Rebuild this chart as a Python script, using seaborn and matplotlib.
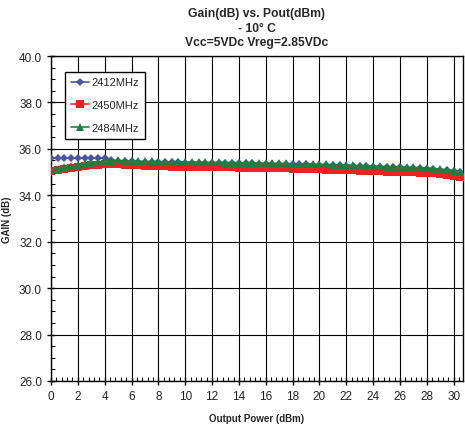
import matplotlib
matplotlib.use("Agg")
import matplotlib.pyplot as plt
import seaborn as sns
import pandas as pd
from matplotlib.ticker import MultipleLocator

pout = [0, 0.5, 1, 1.5, 2, 2.5, 3, 3.5, 4, 4.5, 5, 5.5, 6, 6.5, 7, 7.5, 8, 8.5, 9, 9.5,
        10, 10.5, 11, 11.5, 12, 12.5, 13, 13.5, 14, 14.5, 15, 15.5, 16, 16.5, 17, 17.5,
        18, 18.5, 19, 19.5, 20, 20.5, 21, 21.5, 22, 22.5, 23, 23.5, 24, 24.5, 25, 25.5,
        26, 26.5, 27, 27.5, 28, 28.5, 29, 29.5, 30, 30.5]

gain_2412 = [35.60, 35.60, 35.61, 35.61, 35.61, 35.61, 35.61, 35.60, 35.59, 35.52, 35.48, 35.47,
             35.46, 35.45, 35.44, 35.44, 35.43, 35.43, 35.42, 35.42, 35.41, 35.41, 35.40, 35.40,
             35.39, 35.39, 35.39, 35.38, 35.38, 35.37, 35.37, 35.36, 35.36, 35.35, 35.35, 35.34,
             35.34, 35.33, 35.33, 35.32, 35.31, 35.31, 35.30, 35.29, 35.28, 35.27, 35.26, 35.25,
             35.24, 35.23, 35.22, 35.21, 35.20, 35.19, 35.18, 35.17, 35.15, 35.13, 35.11, 35.08,
             35.04, 35.00]

gain_2450 = [35.05, 35.10, 35.15, 35.19, 35.23, 35.27, 35.30, 35.32, 35.34, 35.34, 35.33, 35.32,
             35.30, 35.29, 35.28, 35.27, 35.26, 35.25, 35.24, 35.24, 35.23, 35.23, 35.22, 35.22,
             35.21, 35.21, 35.20, 35.20, 35.19, 35.19, 35.18, 35.18, 35.17, 35.17, 35.16, 35.16,
             35.15, 35.15, 35.14, 35.13, 35.12, 35.11, 35.10, 35.09, 35.08, 35.07, 35.06, 35.05,
             35.04, 35.03, 35.02, 35.01, 35.00, 35.00, 34.99, 34.98, 34.96, 34.94, 34.92, 34.89,
             34.85, 34.80]

gain_2484 = [35.10, 35.15, 35.20, 35.25, 35.30, 35.35, 35.40, 35.44, 35.47, 35.49, 35.50, 35.49,
             35.48, 35.47, 35.46, 35.46, 35.45, 35.45, 35.44, 35.44, 35.43, 35.43, 35.43, 35.42,
             35.42, 35.42, 35.41, 35.41, 35.40, 35.40, 35.39, 35.39, 35.38, 35.38, 35.37, 35.37,
             35.36, 35.35, 35.35, 35.34, 35.33, 35.33, 35.32, 35.31, 35.30, 35.29, 35.28, 35.27,
             35.26, 35.25, 35.24, 35.23, 35.22, 35.21, 35.20, 35.19, 35.17, 35.15, 35.13, 35.10,
             35.06, 35.02]

series_names = ["2412MHz", "2450MHz", "2484MHz"]
x_ticks = list(range(0, 31, 2))
y_ticks = [26.0, 28.0, 30.0, 32.0, 34.0, 36.0, 38.0, 40.0]

frames = []
for name, g in zip(series_names, [gain_2412, gain_2450, gain_2484]):
    frames.append(pd.DataFrame({"Pout": pout, "Gain": g, "Freq": name}))
df = pd.concat(frames, ignore_index=True)

sns.set_style("white")
plt.rcParams['font.family'] = ['Liberation Sans', 'DejaVu Sans']

fig = plt.figure(figsize=(4.65, 4.27), dpi=100)
ax = fig.add_axes([51/465, 1 - 382/427, (463-51)/465, (382-57)/427])

palette = {"2412MHz": "#4a55a8", "2450MHz": "#ee2222", "2484MHz": "#1a8040"}
markers = {"2412MHz": "D", "2450MHz": "s", "2484MHz": "^"}
sizes = {"2412MHz": 4.5, "2450MHz": 6, "2484MHz": 6}

for name in series_names:
    sub = df[df["Freq"] == name]
    sns.lineplot(data=sub, x="Pout", y="Gain", color=palette[name], marker=markers[name],
                 markersize=sizes[name], markeredgewidth=0, linewidth=1.2,
                 label=name, ax=ax, zorder=3)

ax.set_xlim(0, 30.7)
ax.set_ylim(26, 40)
ax.set_xticks(x_ticks)
ax.set_yticks(y_ticks)
ax.set_yticklabels([f"{v:.1f}" for v in y_ticks])
ax.xaxis.set_minor_locator(MultipleLocator(0.4))
ax.yaxis.set_minor_locator(MultipleLocator(0.5))
ax.tick_params(axis='both', which='major', direction='inout', length=6, width=1,
               labelsize=8.5, color='black', labelcolor='#222222')
ax.tick_params(axis='both', which='minor', direction='in', length=3, width=0.8, color='black')
ax.tick_params(axis='x', which='both', bottom=True)
ax.tick_params(axis='y', which='both', left=True)
ax.grid(True, which='major', color='black', linewidth=0.8)
for s in ax.spines.values():
    s.set_color('black')
    s.set_linewidth(1)

ax.set_xlabel("Output Power (dBm)", fontsize=7, fontweight='bold', labelpad=8)
ax.set_ylabel("GAIN (dB)", fontsize=7, fontweight='bold')
ax.yaxis.set_label_coords(-0.095, 0.5)
ax.set_title("Gain(dB) vs. Pout(dBm)\n- 10° C\nVcc=5VDc Vreg=2.85VDc",
             fontsize=8.7, fontweight='bold', pad=8, linespacing=1.25)

leg = ax.legend(loc='upper left', bbox_to_anchor=(0.034, 0.951), frameon=True,
                fancybox=False, edgecolor='black', fontsize=8, labelspacing=1.15,
                handlelength=1.7, handletextpad=0.2, borderpad=0.5, borderaxespad=0)
leg.get_frame().set_linewidth(1)
leg.get_frame().set_alpha(1)

fig.savefig("out.png", dpi=100, facecolor='white')
